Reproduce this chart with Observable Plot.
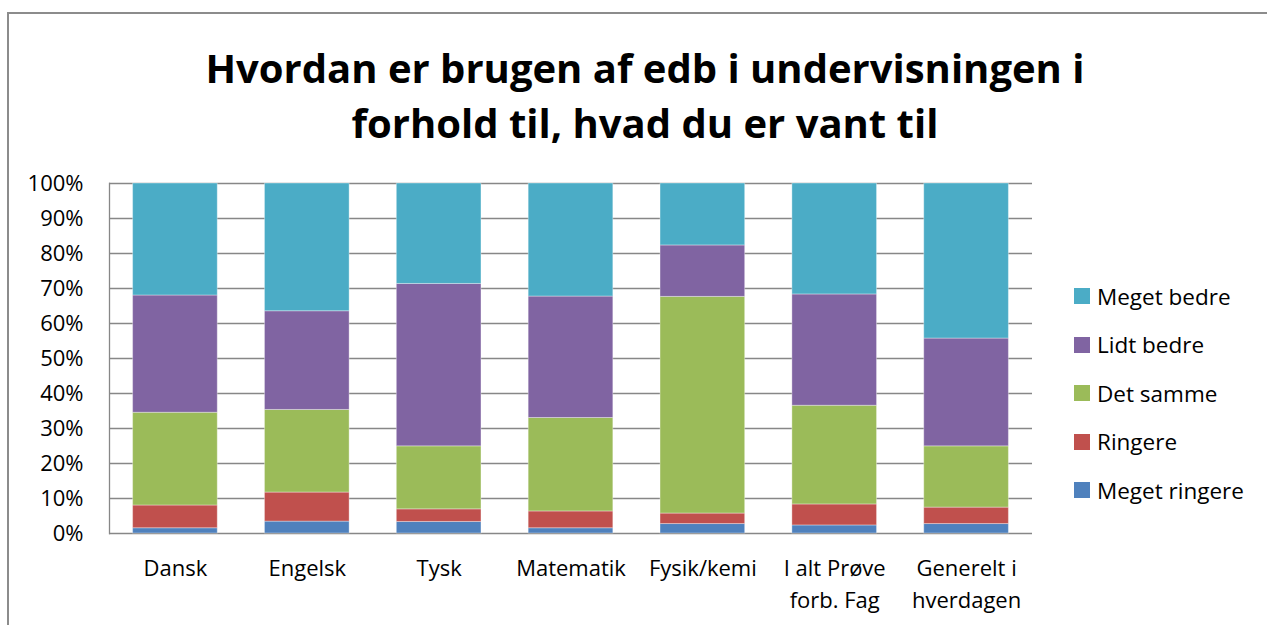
<!DOCTYPE html>
<html>
<head>
<meta charset="utf-8">
<script src="https://cdn.jsdelivr.net/npm/d3@7"></script>
<script src="https://cdn.jsdelivr.net/npm/@observablehq/plot@0.6"></script>
<style>
  html, body { margin: 0; padding: 0; background: #fff; }
  #wrap { position: relative; width: 1267px; height: 625px; overflow: hidden; font-family: "Open Sans", sans-serif; }
  #frame { position: absolute; left: 7px; top: 12px; width: 1400px; height: 800px; border: 2px solid #8c8c8c; box-sizing: border-box; }
  #title { position: absolute; left: 0; width: 1290px; top: 40px; text-align: center; font-weight: 700; font-size: 40px; line-height: 55px; color: #000; }
  #chart { position: absolute; left: 0; top: 0; }
  #legend { position: absolute; left: 1074px; top: 272px; }
  .item { height: 48.5px; display: flex; align-items: center; font-size: 22.5px; color: #000; }
  .sw { width: 16px; height: 16px; margin-right: 7px; flex: none; }
</style>
</head>
<body>
<div id="wrap">
  <div id="frame"></div>
  <div id="chart"></div>
  <div id="title">Hvordan er brugen af edb i undervisningen i<br>forhold til, hvad du er vant til</div>
  <div id="legend"></div>
</div>
<script>
// Categories (x axis)
const categories = ["Dansk", "Engelsk", "Tysk", "Matematik", "Fysik/kemi", "I alt Prøve forb. Fag", "Generelt i hverdagen"];
const categoryLabels = ["Dansk", "Engelsk", "Tysk", "Matematik", "Fysik/kemi", "I alt Prøve\nforb. Fag", "Generelt i\nhverdagen"];

// Series values (percent), bottom to top
const megetRingere = [1.5, 3.4, 3.3, 1.5, 2.7, 2.3, 2.7];
const ringere      = [6.5, 8.3, 3.6, 4.8, 3.0, 6.0, 4.7];
const detSamme     = [26.5, 23.6, 18.0, 26.7, 61.9, 28.2, 17.5];
const lidtBedre    = [33.5, 28.2, 46.4, 34.7, 14.7, 31.8, 30.8];
const megetBedre   = [32.0, 36.5, 28.7, 32.3, 17.7, 31.7, 44.3];

const seriesNames  = ["Meget ringere", "Ringere", "Det samme", "Lidt bedre", "Meget bedre"];
const seriesColors = ["#4F81BD", "#C0504D", "#9BBB59", "#8064A2", "#4BACC6"];
const yTicks = [0, 10, 20, 30, 40, 50, 60, 70, 80, 90, 100];

const seriesValues = [megetRingere, ringere, detSamme, lidtBedre, megetBedre];
const data = [];
seriesNames.forEach((s, si) => {
  categories.forEach((c, ci) => data.push({category: c, series: s, value: seriesValues[si][ci]}));
});
const labelOf = new Map(categories.map((c, i) => [c, categoryLabels[i]]));

const chart = Plot.plot({
  width: 1267,
  height: 625,
  marginLeft: 109,
  marginRight: 235,
  marginTop: 183,
  marginBottom: 92,
  style: { fontFamily: "'Open Sans', sans-serif", fontSize: "22px", color: "#000", background: "transparent" },
  x: { domain: categories, paddingInner: 0.358, paddingOuter: 0.179, round: false, label: null },
  y: { domain: [0, 100], label: null },
  color: { domain: seriesNames, range: seriesColors },
  marks: [
    Plot.ruleY(yTicks, { stroke: "#878787", strokeWidth: 1.3 }),
    Plot.barY(data, { x: "category", y: "value", fill: "series", stroke: "#ffffff", strokeOpacity: 0.35, strokeWidth: 1 }),
    Plot.frame({ anchor: "left", stroke: "#878787", strokeWidth: 1.3 }),
    Plot.axisY({ ticks: yTicks, tickFormat: d => d + "%", tickSize: 0, tickPadding: 26, fontSize: 22 }),
    Plot.axisX({ tickFormat: d => labelOf.get(d), tickSize: 0, tickPadding: 20, fontSize: 22, lineHeight: 1.45 })
  ]
});
document.getElementById("chart").appendChild(chart);

const legend = document.getElementById("legend");
[...seriesNames].reverse().forEach((s) => {
  const i = seriesNames.indexOf(s);
  const row = document.createElement("div");
  row.className = "item";
  const sw = document.createElement("div");
  sw.className = "sw";
  sw.style.background = seriesColors[i];
  const t = document.createElement("span");
  t.textContent = s;
  row.appendChild(sw);
  row.appendChild(t);
  legend.appendChild(row);
});
</script>
</body>
</html>
